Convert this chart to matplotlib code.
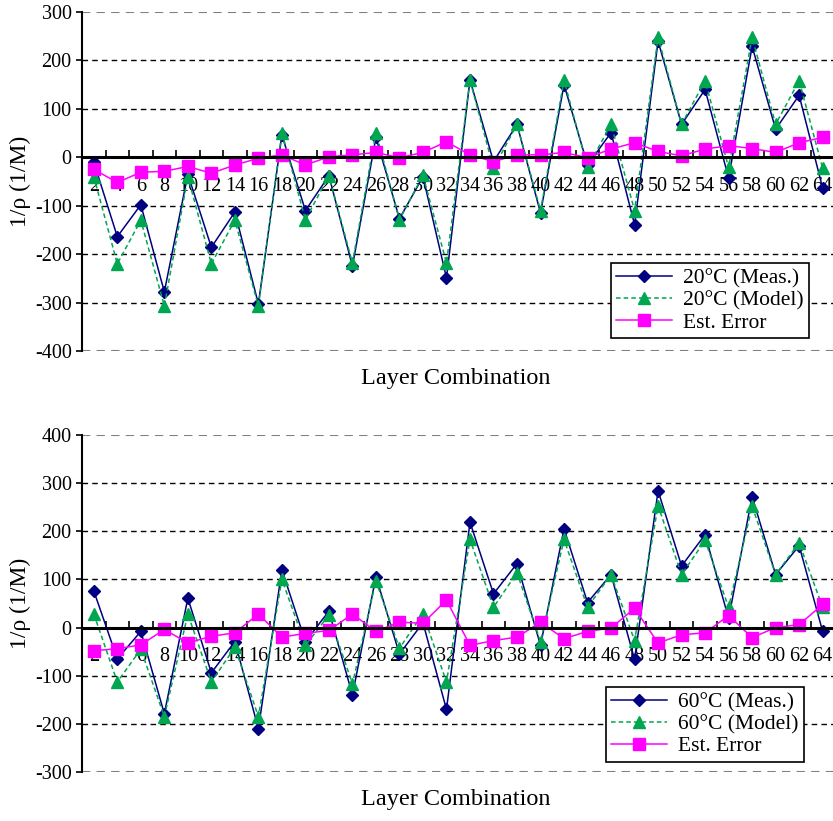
import numpy as np
import matplotlib
matplotlib.use("Agg")
import matplotlib.pyplot as plt
from matplotlib.ticker import FixedLocator

plt.rcParams["font.family"] = ["Liberation Serif", "DejaVu Serif"]
plt.rcParams["axes.unicode_minus"] = False

# layer combinations (x axis labels)
combos = list(range(2, 65, 2))

# 20 degC panel
meas_20 = [-10, -164, -98, -278, -35, -186, -113, -303, 46, -110,
           -38, -225, 41, -127, -40, -249, 160, -9, 68, -115,
           150, -16, 51, -139, 240, 68, 140, -43, 229, 58, 128, -64]
model_20 = [-40, -220, -130, -307, -40, -220, -130, -307, 51, -129,
            -38, -218, 51, -129, -37, -218, 159, -23, 68, -110,
            159, -21, 68, -110, 248, 68, 158, -21, 248, 68, 158, -23]
err_20 = [-25, -52, -31, -29, -19, -33, -16, -2, 5, -16,
          1, 5, 10, -1, 10, 32, 5, -9, 5, 5,
          10, -1, 17, 30, 12, 3, 17, 24, 18, 10, 30, 41]

# 60 degC panel
meas_60 = [76, -65, -8, -179, 61, -94, -29, -210, 120, -29,
           34, -140, 106, -55, 10, -170, 219, 70, 133, -37,
           205, 52, 110, -66, 284, 128, 193, 19, 272, 110, 170, -8]
model_60 = [28, -113, -45, -185, 28, -113, -41, -185, 100, -37,
            26, -117, 97, -43, 29, -113, 183, 42, 114, -29,
            183, 42, 110, -27, 253, 110, 181, 42, 252, 110, 176, 42]
err_60 = [-48, -44, -36, -4, -32, -18, -11, 28, -20, -12,
          -6, 28, -8, 11, 9, 57, -37, -27, -20, 11,
          -23, -8, -1, 40, -32, -15, -11, 25, -21, 0, 6, 48]

panels = [
    ("20°C", meas_20, model_20, err_20, (-400, 300), (0.968, 0.038)),
    ("60°C", meas_60, model_60, err_60, (-300, 400), (0.961, 0.030)),
]

fig = plt.figure(figsize=(8.33, 8.21), dpi=100)
ax_pos = [[0.0985, 0.5725, 0.9015, 0.4129], [0.0985, 0.0597, 0.9015, 0.4105]]

x = np.arange(1, len(combos) + 1)

for pos, (temp, meas, model, err, ylim, anchor) in zip(ax_pos, panels):
    ax = fig.add_axes(pos)
    ax.plot(x, meas, color="#000080", lw=1.1, marker="D", ms=6.5,
            label=f"{temp} (Meas.)")
    ax.plot(x, model, color="#00A650", lw=1.1, ls=(0, (3, 2)), marker="^",
            ms=9, label=f"{temp} (Model)")
    ax.plot(x, err, color="#FF00FF", lw=1.1, marker="s", ms=9,
            label="Est. Error")

    ax.set_xlim(0.5, 32.44)
    ax.set_ylim(*ylim)
    ax.set_yticks(np.arange(ylim[0], ylim[1] + 1, 100))
    ax.tick_params(axis="y", labelsize=14.5, length=4, width=1.2, direction="out")

    # category axis drawn on the zero line
    ax.spines["bottom"].set_position(("data", 0))
    ax.spines["bottom"].set_linewidth(2.2)
    ax.spines["left"].set_linewidth(1.5)
    ax.spines["top"].set_visible(False)
    ax.spines["right"].set_visible(False)
    ax.set_xticks(x)
    ax.set_xticklabels([str(c) for c in combos])
    ax.xaxis.set_minor_locator(FixedLocator(np.arange(1.5, 32.5, 1)))
    ax.tick_params(axis="x", which="major", length=0, pad=14, labelsize=14.5)
    ax.tick_params(axis="x", which="minor", direction="in", length=5, width=1.2)

    ax.yaxis.grid(True, color="black", ls=(0, (4, 3)), lw=1)
    ax.set_axisbelow(True)
    gl = ax.get_ygridlines()
    gl[0].set_color("#808080")
    gl[-1].set_color("#808080")
    gl[0].set_linewidth(1.5)
    gl[-1].set_linewidth(1.5)

    ax.set_ylabel("1/ρ (1/M)", fontsize=17, labelpad=3)
    ax.text(0.498, -0.082, "Layer Combination", transform=ax.transAxes,
            ha="center", va="center", fontsize=17.5)

    leg = ax.legend(loc="lower right", bbox_to_anchor=anchor, fontsize=15.5,
                    frameon=True, fancybox=False, edgecolor="black",
                    framealpha=1, handlelength=2.6, borderpad=0.25,
                    labelspacing=0.1, handletextpad=0.5, borderaxespad=0)
    leg.get_frame().set_linewidth(1.2)

fig.savefig("out.png", dpi=100)
